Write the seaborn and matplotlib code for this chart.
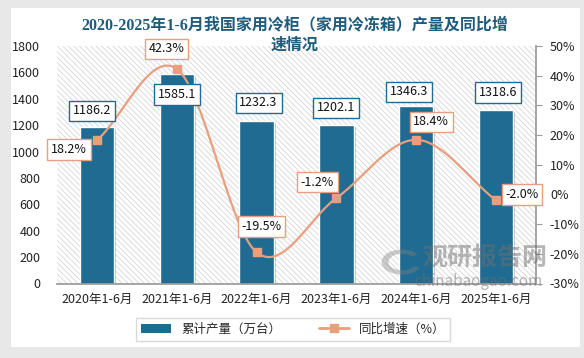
import numpy as np
import pandas as pd
import matplotlib
matplotlib.use("Agg")
import matplotlib.pyplot as plt
import matplotlib.patheffects as pe
from matplotlib.patches import Rectangle, Patch, Wedge
from matplotlib.lines import Line2D
import seaborn as sns

# =========================
# DATA
# =========================
periods = ["2020年1-6月", "2021年1-6月", "2022年1-6月", "2023年1-6月", "2024年1-6月", "2025年1-6月"]
output = [1186.2, 1585.1, 1232.3, 1202.1, 1346.3, 1318.6]
growth = [18.2, 42.3, -19.5, -1.2, 18.4, -2.0]

title_lines = ["2020-2025年1-6月我国家用冷柜（家用冷冻箱）产量及同比增", "速情况"]
bar_name = "累计产量（万台）"
line_name = "同比增速（%）"

BAR_C = "#1f6b92"
LINE_C = "#e99f7d"
TITLE_C = "#1f5c7c"

sns.set_theme(style="white")
plt.rcParams["font.family"] = ["Noto Sans CJK SC", "DejaVu Sans"]
plt.rcParams["hatch.linewidth"] = 0.6
plt.rcParams["hatch.color"] = "#d6d6d6"

df = pd.DataFrame({"period": periods, "output": output, "growth": growth})

fig = plt.figure(figsize=(5.84, 3.58), dpi=100, facecolor="#e8e8e8")
fig.add_artist(Rectangle((11 / 584, 1 - 347 / 358), 569 / 584, 339 / 358,
                         transform=fig.transFigure, facecolor="white",
                         edgecolor="none", zorder=-10))

ax = fig.add_axes([57 / 584, 1 - 283.5 / 358, 479 / 584, 237.5 / 358])
ax.set_facecolor("none")
ax.add_patch(Rectangle((0, 0), 1, 1, transform=ax.transAxes, facecolor="white",
                       edgecolor="#d6d6d6", hatch="\\\\\\\\\\\\", lw=0, zorder=0))

# bars
sns.barplot(data=df, x="period", y="output", color=BAR_C, width=0.43,
            saturation=1, edgecolor="white", linewidth=1, ax=ax, zorder=2)
for p in ax.patches[1:]:
    p.set_path_effects([pe.SimplePatchShadow(offset=(1.5, -1.5), alpha=0.25), pe.Normal()])

ax.set_ylim(0, 1800)
ax.set_yticks(range(0, 1801, 200))
ax.set_xlim(-0.5, 5.5)
ax.set_xlabel("")
ax.set_ylabel("")
for s in ["left", "top", "right"]:
    ax.spines[s].set_visible(False)
ax.spines["bottom"].set_color("#9a9a9a")
ax.tick_params(axis="y", length=0, pad=12, labelsize=9, colors="#222222")
ax.tick_params(axis="x", length=0, pad=7, labelsize=9, colors="#222222")

# line on secondary axis
ax2 = ax.twinx()
ax2.set_ylim(-30, 50)
ax2.set_yticks(range(-30, 51, 10))
ax2.set_yticklabels([f"{v}%" for v in range(-30, 51, 10)])
for s in ["left", "top", "bottom"]:
    ax2.spines[s].set_visible(False)
ax2.spines["right"].set_color("#9a9a9a")
ax2.tick_params(axis="y", length=4, width=0.8, pad=6, labelsize=9,
                colors="#9a9a9a", labelcolor="#222222")

# smooth curve through the points (Catmull-Rom rendering)
xs = np.arange(len(growth), dtype=float)
ys = np.array(growth, dtype=float)
px = np.concatenate([[2 * xs[0] - xs[1]], xs, [2 * xs[-1] - xs[-2]]])
py = np.concatenate([[2 * ys[0] - ys[1]], ys, [2 * ys[-1] - ys[-2]]])
cx, cy = [], []
t = np.linspace(0, 1, 30)
for i in range(1, len(px) - 2):
    for arr, out in ((px, cx), (py, cy)):
        p0, p1, p2, p3 = arr[i - 1], arr[i], arr[i + 1], arr[i + 2]
        out.extend(0.5 * ((2 * p1) + (-p0 + p2) * t + (2 * p0 - 5 * p1 + 4 * p2 - p3) * t ** 2
                          + (-p0 + 3 * p1 - 3 * p2 + p3) * t ** 3))
ax2.plot(cx, cy, color=LINE_C, lw=1.6, zorder=3)
ax2.plot(xs, ys, ls="none", marker="s", ms=6, color=LINE_C, zorder=4)

# data labels
bar_off = [(-5, 16), (0, -20), (2, 18), (0, 17), (-7, 14), (2, 17)]
for i, v in enumerate(output):
    ax2.annotate(f"{v:.1f}", xy=(i, (v / 1800) * 80 - 30), xytext=bar_off[i],
                 textcoords="offset pixels", ha="center", va="center", fontsize=9,
                 color="#111111", zorder=6,
                 bbox=dict(boxstyle="square,pad=0.3", fc="white", ec=BAR_C, lw=1))

line_off = [(-28, -9), (-10, 20), (5, 26), (-19, 16), (15, 18), (26, 6)]
for i, v in enumerate(growth):
    ax2.annotate(f"{v:.1f}%", xy=(i, v), xytext=line_off[i],
                 textcoords="offset pixels", ha="center", va="center", fontsize=9,
                 color="#111111", zorder=6,
                 bbox=dict(boxstyle="square,pad=0.3", fc="white", ec=LINE_C, lw=1))

# title (two lines, serif digits)
title_font = ["Liberation Serif", "Noto Sans CJK SC"]
fig.text(295 / 584, 1 - 25 / 358, title_lines[0], ha="center", va="center",
         fontsize=11.5, fontweight="bold", color=TITLE_C, family=title_font, zorder=7)
fig.text(295 / 584, 1 - 46 / 358, title_lines[1], ha="center", va="center",
         fontsize=11.5, fontweight="bold", color=TITLE_C, family=title_font, zorder=7)

# legend
handles = [Patch(facecolor=BAR_C, edgecolor="none"),
           Line2D([0], [0], color=LINE_C, lw=2, marker="s", ms=6)]
fig.legend(handles, [bar_name, line_name], loc="center",
           bbox_to_anchor=(293 / 584, 1 - 329 / 358), ncol=2, fontsize=9,
           frameon=True, fancybox=False, edgecolor="#d0d0d0", handlelength=2.4,
           columnspacing=3, borderpad=0.4)

# watermark
fig.add_artist(Wedge((402 / 584, 1 - 262 / 358), 0.035, 40, 330, width=0.012,
                     transform=fig.transFigure, facecolor="#808080", alpha=0.4,
                     edgecolor="none", zorder=10))
fig.text(485 / 584, 1 - 258 / 358, "观研报告网", ha="center", va="center",
         fontsize=18, fontweight="bold", color="#6f6f6f", alpha=0.5, zorder=10)
fig.text(478 / 584, 1 - 281 / 358, "chinabaogao.com", ha="center", va="center",
         fontsize=11, color="#6f6f6f", alpha=0.5, zorder=10)

fig.savefig("out.png", dpi=100, facecolor=fig.get_facecolor())
